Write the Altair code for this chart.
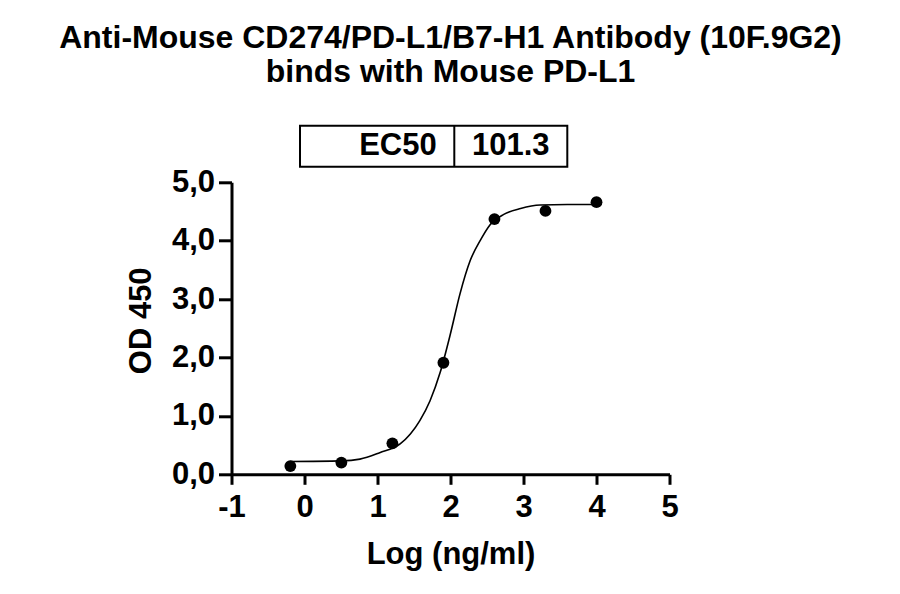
import pandas as pd
import altair as alt

# measured points (log10 of concentration in ng/ml) and OD 450 readings
log_conc = [-0.194, 0.505, 1.204, 1.903, 2.602, 3.301, 4.0]
od450 = [0.14, 0.20, 0.53, 1.91, 4.37, 4.51, 4.66]

# fitted curve
curve_x = [-0.194, 0.5, 0.76, 1.03, 1.31, 1.45, 1.58, 1.72, 1.86, 2.0,
           2.13, 2.27, 2.41, 2.54, 2.73, 2.96, 3.23, 3.6, 4.0]
curve_y = [0.22, 0.23, 0.26, 0.37, 0.52, 0.69, 0.92, 1.26, 1.75, 2.41,
           3.09, 3.66, 4.01, 4.27, 4.45, 4.55, 4.61, 4.62, 4.62]

ec50_label = "EC50"
ec50_value = "101.3"

x_ticks = [-1, 0, 1, 2, 3, 4, 5]
y_ticks = [0, 1, 2, 3, 4, 5]

FONT = "Liberation Sans"

df_pts = pd.DataFrame({"x": log_conc, "y": od450})
df_fit = pd.DataFrame({"x": curve_x, "y": curve_y})
df_box = pd.DataFrame({"label": [ec50_label], "value": [ec50_value]})

x_enc = alt.X(
    "x:Q",
    title="Log (ng/ml)",
    scale=alt.Scale(domain=[-1, 5], nice=False, zero=False),
    axis=alt.Axis(values=x_ticks, labelExpr="'' + datum.value",
                  labelFlush=False, labelOverlap=False,
                  tickSize=10, labelPadding=8,
                  titleBaseline="alphabetic", titleY=89),
)
y_enc = alt.Y(
    "y:Q",
    title="OD 450",
    scale=alt.Scale(domain=[0, 5], nice=False),
    axis=alt.Axis(values=y_ticks, tickSize=13, labelPadding=4,
                  labelFlush=False, labelOverlap=False,
                  labelExpr="replace(format(datum.value, '.1f'), '.', ',')",
                  titleX=-90, titleY=138, titleBaseline="middle"),
)

curve = alt.Chart(df_fit).mark_line(
    color="black", strokeWidth=1.6, interpolate="monotone"
).encode(x=x_enc, y=y_enc)

points = alt.Chart(df_pts).mark_point(
    filled=True, color="black", size=140, opacity=1
).encode(x="x:Q", y="y:Q")

box = alt.Chart(df_box).mark_rect(
    fill="white", stroke="black", strokeWidth=2
).encode(
    x=alt.value(68.5), x2=alt.value(335.8),
    y=alt.value(-56.6), y2=alt.value(-15.6),
)

divider = alt.Chart(df_box).mark_rule(color="black", strokeWidth=2).encode(
    x=alt.value(222.8), y=alt.value(-56.6), y2=alt.value(-15.6)
)

txt_label = alt.Chart(df_box).mark_text(
    font=FONT, fontWeight="bold", fontSize=31, align="right",
    baseline="alphabetic", color="black"
).encode(x=alt.value(205.2), y=alt.value(-27.3), text="label:N")

txt_value = alt.Chart(df_box).mark_text(
    font=FONT, fontWeight="bold", fontSize=31, align="center",
    baseline="alphabetic", color="black"
).encode(x=alt.value(279.2), y=alt.value(-27.3), text="value:N")

chart = alt.layer(
    curve, points, box, divider, txt_label, txt_value
).properties(
    width=438,
    height=292,
    autosize=alt.AutoSizeParams(type="none"),
    padding={"left": 223.5, "top": 174.3, "right": 222, "bottom": 105},
    title=alt.Title(
        ["Anti-Mouse CD274/PD-L1/B7-H1 Antibody (10F.9G2)",
         "binds with Mouse PD-L1"],
        anchor="middle", offset=36,
    ),
).configure_view(
    stroke=None
).configure_axis(
    grid=False,
    domainColor="black", domainWidth=3,
    tickColor="black", tickWidth=3,
    labelFont=FONT, labelFontSize=31, labelFontWeight="bold", labelColor="black",
    titleFont=FONT, titleFontSize=31, titleFontWeight="bold", titleColor="black",
).configure_title(
    font=FONT, fontSize=32, fontWeight="bold", color="black", lineHeight=34
)

chart.save("out.html", embed_options={"renderer": "svg", "actions": False})
